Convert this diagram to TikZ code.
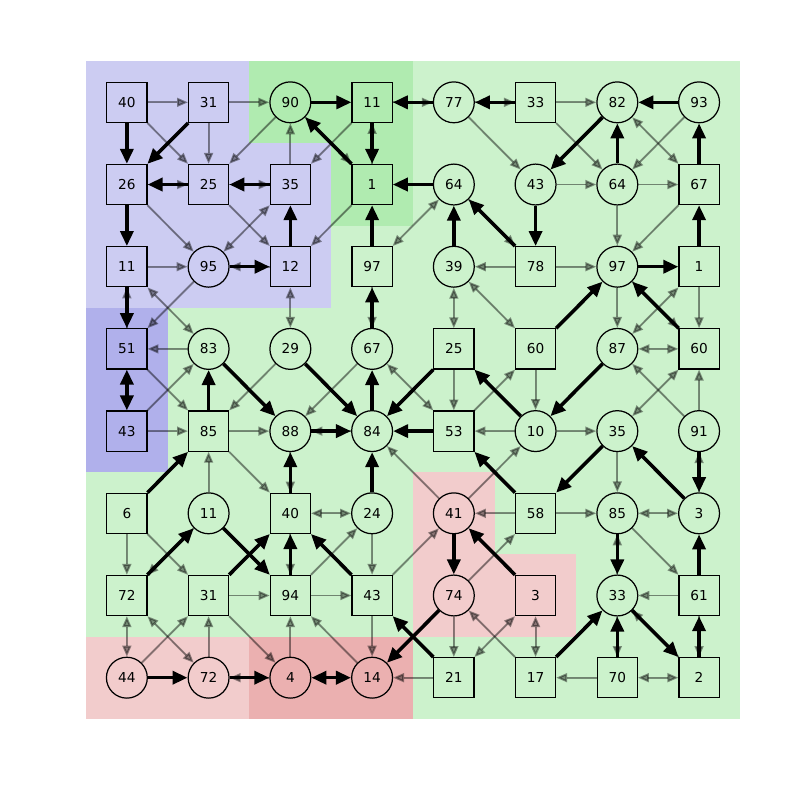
\documentclass[tikz,border=0pt]{standalone}
\usepackage{fontspec}
\setmainfont{DejaVu Sans}
\usepackage{xcolor}
\definecolor{areaGreen}{HTML}{CCF2CC}
\definecolor{areaGreenDark}{HTML}{B0EBB0}
\definecolor{areaBlue}{HTML}{CCCCF2}
\definecolor{areaBlueDark}{HTML}{B0B0EB}
\definecolor{areaRed}{HTML}{F2CCCC}
\definecolor{areaRedDark}{HTML}{EBB0B0}
\usetikzlibrary{arrows.meta}

\tikzset{
  sq/.style={rectangle, draw, line width=0.9pt, minimum size=1.03cm, inner sep=0pt, font=\fontsize{10}{12}\selectfont},
  rd/.style={circle, draw, line width=0.9pt, minimum size=1.05cm, inner sep=0pt, font=\fontsize{10}{12}\selectfont},
  weak/.style={draw=black, fill=black, opacity=0.42, line width=1.4pt, -{Triangle[length=8pt, width=6.5pt]}},
  weakboth/.style={weak, {Triangle[length=8pt, width=6.5pt]}-{Triangle[length=8pt, width=6.5pt]}},
  strong/.style={draw=black, line width=2.6pt, -{Triangle[length=11pt, width=9.5pt]}},
  strongboth/.style={strong, {Triangle[length=11pt, width=9.5pt]}-{Triangle[length=11pt, width=9.5pt]}}
}

\begin{document}
\begin{tikzpicture}[x=2.1cm, y=-2.1116cm]
  \useasboundingbox (-1.552,-1.245) rectangle (8.234,8.488);
  % regions
  \fill[areaGreen] (-0.5,-0.5) rectangle (7.5,7.5);
  \fill[areaBlue] (-0.5,-0.5) rectangle (1.5,2.5);
  \fill[areaBlue] (1.5,0.5) rectangle (2.5,2.5);
  \fill[areaBlueDark] (-0.5,2.5) rectangle (0.5,4.5);
  \fill[areaGreenDark] (1.5,-0.5) rectangle (3.5,0.5);
  \fill[areaGreenDark] (2.5,0.5) rectangle (3.5,1.5);
  \fill[areaRed] (3.5,4.5) rectangle (4.5,6.5);
  \fill[areaRed] (4.5,5.5) rectangle (5.5,6.5);
  \fill[areaRed] (-0.5,6.5) rectangle (1.5,7.5);
  \fill[areaRedDark] (1.5,6.5) rectangle (3.5,7.5);
  % nodes, row by row
  \node[sq] (n00) at (0,0) {40};
  \node[sq] (n01) at (1,0) {31};
  \node[rd] (n02) at (2,0) {90};
  \node[sq] (n03) at (3,0) {11};
  \node[rd] (n04) at (4,0) {77};
  \node[sq] (n05) at (5,0) {33};
  \node[rd] (n06) at (6,0) {82};
  \node[rd] (n07) at (7,0) {93};
  \node[sq] (n10) at (0,1) {26};
  \node[sq] (n11) at (1,1) {25};
  \node[sq] (n12) at (2,1) {35};
  \node[sq] (n13) at (3,1) {1};
  \node[rd] (n14) at (4,1) {64};
  \node[rd] (n15) at (5,1) {43};
  \node[rd] (n16) at (6,1) {64};
  \node[sq] (n17) at (7,1) {67};
  \node[sq] (n20) at (0,2) {11};
  \node[rd] (n21) at (1,2) {95};
  \node[sq] (n22) at (2,2) {12};
  \node[sq] (n23) at (3,2) {97};
  \node[rd] (n24) at (4,2) {39};
  \node[sq] (n25) at (5,2) {78};
  \node[rd] (n26) at (6,2) {97};
  \node[sq] (n27) at (7,2) {1};
  \node[sq] (n30) at (0,3) {51};
  \node[rd] (n31) at (1,3) {83};
  \node[rd] (n32) at (2,3) {29};
  \node[rd] (n33) at (3,3) {67};
  \node[sq] (n34) at (4,3) {25};
  \node[sq] (n35) at (5,3) {60};
  \node[rd] (n36) at (6,3) {87};
  \node[sq] (n37) at (7,3) {60};
  \node[sq] (n40) at (0,4) {43};
  \node[sq] (n41) at (1,4) {85};
  \node[rd] (n42) at (2,4) {88};
  \node[rd] (n43) at (3,4) {84};
  \node[sq] (n44) at (4,4) {53};
  \node[rd] (n45) at (5,4) {10};
  \node[rd] (n46) at (6,4) {35};
  \node[rd] (n47) at (7,4) {91};
  \node[sq] (n50) at (0,5) {6};
  \node[rd] (n51) at (1,5) {11};
  \node[sq] (n52) at (2,5) {40};
  \node[rd] (n53) at (3,5) {24};
  \node[rd] (n54) at (4,5) {41};
  \node[sq] (n55) at (5,5) {58};
  \node[rd] (n56) at (6,5) {85};
  \node[rd] (n57) at (7,5) {3};
  \node[sq] (n60) at (0,6) {72};
  \node[sq] (n61) at (1,6) {31};
  \node[sq] (n62) at (2,6) {94};
  \node[sq] (n63) at (3,6) {43};
  \node[rd] (n64) at (4,6) {74};
  \node[sq] (n65) at (5,6) {3};
  \node[rd] (n66) at (6,6) {33};
  \node[sq] (n67) at (7,6) {61};
  \node[rd] (n70) at (0,7) {44};
  \node[rd] (n71) at (1,7) {72};
  \node[rd] (n72) at (2,7) {4};
  \node[rd] (n73) at (3,7) {14};
  \node[sq] (n74) at (4,7) {21};
  \node[sq] (n75) at (5,7) {17};
  \node[sq] (n76) at (6,7) {70};
  \node[sq] (n77) at (7,7) {2};
  % thin edges
  \draw[weak] (n00) -- (n01);
  \draw[weak] (n01) -- (n02);
  \draw[weak] (n00) -- (n11);
  \draw[weak] (n01) -- (n11);
  \draw[weak] (n02) -- (n11);
  \draw[weak] (n12) -- (n02);
  \draw[weak] (n02) -- (n13);
  \draw[weak] (n10) -- (n11);
  \draw[weak] (n11) -- (n12);
  \draw[weak] (n10) -- (n21);
  \draw[weak] (n11) -- (n22);
  \draw[weak] (n20) -- (n21);
  \draw[weak] (n22) -- (n21);
  \draw[weak] (n13) -- (n22);
  \draw[weak] (n03) -- (n12);
  \draw[weak] (n03) -- (n04);
  \draw[weak] (n04) -- (n05);
  \draw[weak] (n13) -- (n03);
  \draw[weak] (n04) -- (n15);
  \draw[weak] (n14) -- (n25);
  \draw[weak] (n25) -- (n24);
  \draw[weak] (n05) -- (n06);
  \draw[weak] (n05) -- (n16);
  \draw[weak] (n07) -- (n16);
  \draw[weak] (n15) -- (n16);
  \draw[weak] (n16) -- (n17);
  \draw[weak] (n16) -- (n26);
  \draw[weak] (n17) -- (n26);
  \draw[weak] (n25) -- (n26);
  \draw[weak] (n26) -- (n37);
  \draw[weak] (n27) -- (n37);
  \draw[weak] (n26) -- (n36);
  \draw[weak] (n35) -- (n45);
  \draw[weak] (n47) -- (n36);
  \draw[weak] (n47) -- (n37);
  \draw[weak] (n45) -- (n46);
  \draw[weak] (n57) -- (n47);
  \draw[weak] (n46) -- (n56);
  \draw[weak] (n45) -- (n44);
  \draw[weak] (n44) -- (n35);
  \draw[weak] (n54) -- (n45);
  \draw[weak] (n23) -- (n33);
  \draw[weak] (n33) -- (n42);
  \draw[weak] (n34) -- (n44);
  \draw[weak] (n43) -- (n42);
  \draw[weak] (n54) -- (n43);
  \draw[weak] (n55) -- (n54);
  \draw[weak] (n30) -- (n20);
  \draw[weak] (n21) -- (n30);
  \draw[weak] (n31) -- (n30);
  \draw[weak] (n30) -- (n41);
  \draw[weak] (n40) -- (n31);
  \draw[weak] (n40) -- (n41);
  \draw[weak] (n32) -- (n41);
  \draw[weak] (n41) -- (n42);
  \draw[weak] (n41) -- (n52);
  \draw[weak] (n42) -- (n52);
  \draw[weak] (n51) -- (n41);
  \draw[weak] (n50) -- (n60);
  \draw[weak] (n50) -- (n61);
  \draw[weak] (n51) -- (n60);
  \draw[weak] (n52) -- (n62);
  \draw[weak] (n61) -- (n62);
  \draw[weak] (n70) -- (n61);
  \draw[weak] (n71) -- (n61);
  \draw[weak] (n61) -- (n72);
  \draw[weak] (n72) -- (n62);
  \draw[weak] (n73) -- (n62);
  \draw[weak] (n72) -- (n71);
  \draw[weak] (n62) -- (n53);
  \draw[weak] (n62) -- (n63);
  \draw[weak] (n53) -- (n63);
  \draw[weak] (n63) -- (n54);
  \draw[weak] (n63) -- (n73);
  \draw[weak] (n74) -- (n73);
  \draw[weak] (n64) -- (n55);
  \draw[weak] (n64) -- (n74);
  \draw[weak] (n75) -- (n64);
  \draw[weak] (n55) -- (n56);
  \draw[weak] (n56) -- (n67);
  \draw[weak] (n67) -- (n66);
  \draw[weak] (n66) -- (n56);
  \draw[weak] (n67) -- (n77);
  \draw[weak] (n66) -- (n76);
  \draw[weak] (n77) -- (n66);
  \draw[weak] (n76) -- (n75);
  % thin edges, both ways
  \draw[weakboth] (n12) -- (n21);
  \draw[weakboth] (n14) -- (n23);
  \draw[weakboth] (n24) -- (n34);
  \draw[weakboth] (n24) -- (n35);
  \draw[weakboth] (n06) -- (n17);
  \draw[weakboth] (n27) -- (n36);
  \draw[weakboth] (n36) -- (n37);
  \draw[weakboth] (n46) -- (n37);
  \draw[weakboth] (n33) -- (n44);
  \draw[weakboth] (n20) -- (n31);
  \draw[weakboth] (n22) -- (n32);
  \draw[weakboth] (n53) -- (n52);
  \draw[weakboth] (n60) -- (n70);
  \draw[weakboth] (n60) -- (n71);
  \draw[weakboth] (n65) -- (n74);
  \draw[weakboth] (n65) -- (n75);
  \draw[weakboth] (n56) -- (n57);
  \draw[weakboth] (n76) -- (n77);
  % thick edges
  \draw[strong] (n00) -- (n10);
  \draw[strong] (n01) -- (n10);
  \draw[strong] (n13) -- (n02);
  \draw[strong] (n11) -- (n10);
  \draw[strong] (n12) -- (n11);
  \draw[strong] (n10) -- (n20);
  \draw[strong] (n22) -- (n12);
  \draw[strong] (n21) -- (n22);
  \draw[strong] (n02) -- (n03);
  \draw[strong] (n04) -- (n03);
  \draw[strong] (n05) -- (n04);
  \draw[strong] (n03) -- (n13);
  \draw[strong] (n14) -- (n13);
  \draw[strong] (n23) -- (n13);
  \draw[strong] (n24) -- (n14);
  \draw[strong] (n25) -- (n14);
  \draw[strong] (n15) -- (n25);
  \draw[strong] (n07) -- (n06);
  \draw[strong] (n06) -- (n15);
  \draw[strong] (n16) -- (n06);
  \draw[strong] (n17) -- (n07);
  \draw[strong] (n26) -- (n27);
  \draw[strong] (n27) -- (n17);
  \draw[strong] (n35) -- (n26);
  \draw[strong] (n37) -- (n26);
  \draw[strong] (n36) -- (n45);
  \draw[strong] (n47) -- (n57);
  \draw[strong] (n57) -- (n46);
  \draw[strong] (n46) -- (n55);
  \draw[strong] (n45) -- (n34);
  \draw[strong] (n55) -- (n44);
  \draw[strong] (n33) -- (n23);
  \draw[strong] (n32) -- (n43);
  \draw[strong] (n43) -- (n33);
  \draw[strong] (n34) -- (n43);
  \draw[strong] (n44) -- (n43);
  \draw[strong] (n42) -- (n43);
  \draw[strong] (n53) -- (n43);
  \draw[strong] (n20) -- (n30);
  \draw[strongboth] (n30) -- (n40);
  \draw[strong] (n41) -- (n31);
  \draw[strong] (n31) -- (n42);
  \draw[strong] (n52) -- (n42);
  \draw[strong] (n50) -- (n41);
  \draw[strong] (n60) -- (n51);
  \draw[strong] (n51) -- (n62);
  \draw[strong] (n61) -- (n52);
  \draw[strong] (n62) -- (n52);
  \draw[strong] (n63) -- (n52);
  \draw[strong] (n70) -- (n71);
  \draw[strong] (n71) -- (n72);
  \draw[strongboth] (n72) -- (n73);
  \draw[strong] (n74) -- (n63);
  \draw[strong] (n64) -- (n73);
  \draw[strong] (n54) -- (n64);
  \draw[strong] (n65) -- (n54);
  \draw[strong] (n56) -- (n66);
  \draw[strong] (n67) -- (n57);
  \draw[strong] (n77) -- (n67);
  \draw[strong] (n75) -- (n66);
  \draw[strong] (n76) -- (n66);
  \draw[strong] (n66) -- (n77);
\end{tikzpicture}
\end{document}
